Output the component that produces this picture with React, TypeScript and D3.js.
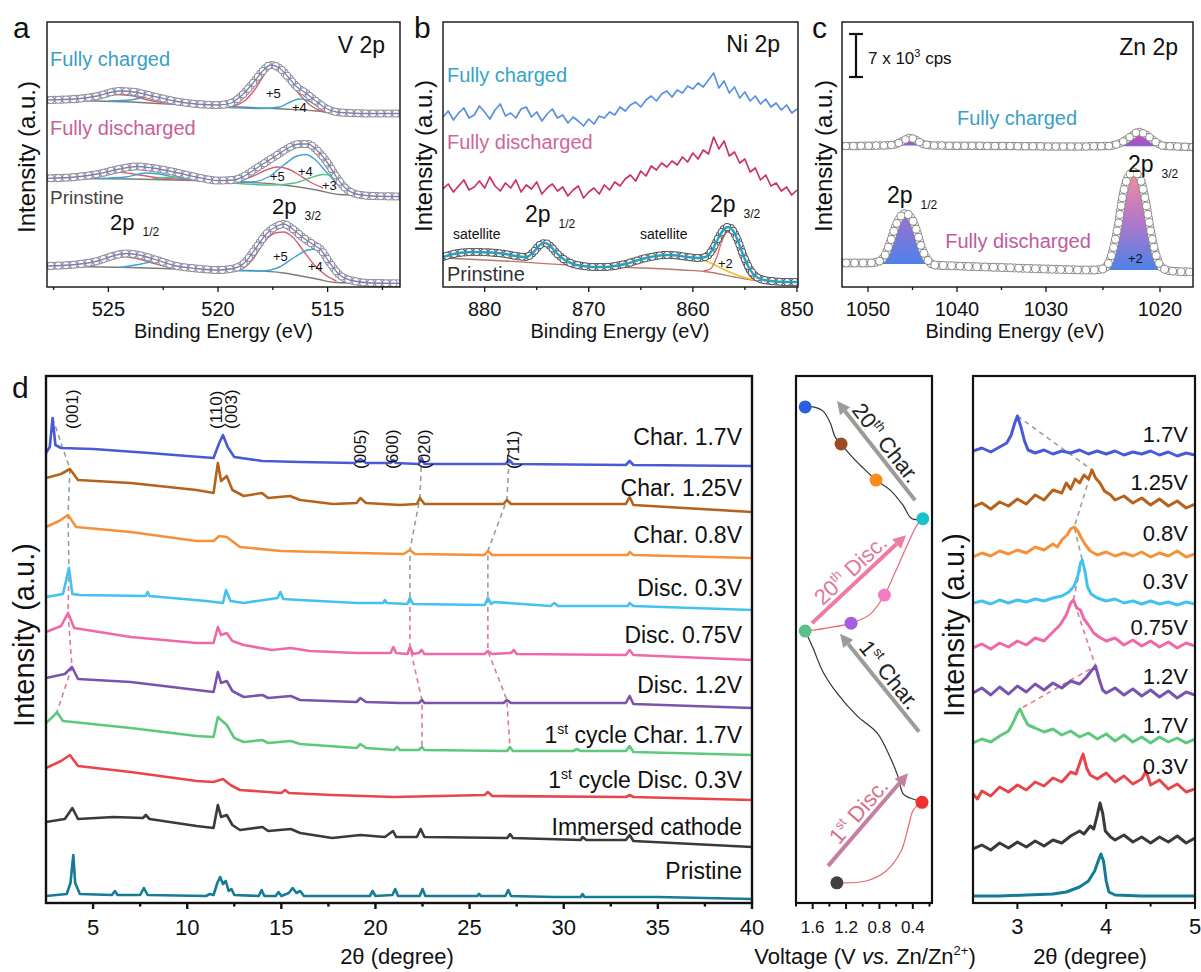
import React from 'react';
import * as d3 from 'd3';

type P = [number, number];
const FONT = '"Liberation Sans", Arial, Helvetica, sans-serif';

// ---------------- (a) V 2p XPS: [binding energy, intensity] ----------------
const aChargedFit: P[] = [[527.8,187],[526.5,188],[525.5,191],[524.5,196],[523.8,195],[523,191],[522,186],[521,183],[520,182],[519.4,184],[518.9,192],[518.4,204],[518,215],[517.6,222],[517.2,219],[516.8,210],[516.4,200],[516,194],[515.6,187],[515.1,179],[514.6,175],[514,174],[513,173.5],[511.7,173.5]];
const aChargedBg: P[] = [[527.8,187],[524,185],[521,181.5],[519,180],[517,178],[515.5,176],[514.5,173.8],[511.7,173.5]];
const aCharged5: P[] = [[527,187.5],[525.8,189],[524.8,192.5],[524,191.5],[523.2,187],[522.3,184],[521,181.5],[519.5,180.5],[518.8,186],[518.3,198],[517.9,212],[517.6,220],[517.2,217],[516.8,207],[516.3,193],[515.8,182],[515.3,176],[514.8,174]];
const aCharged4: P[] = [[525,186],[524,187],[523.2,190],[522.5,188],[521.8,184],[521,181.5],[518,178.5],[517.2,180],[516.7,185],[516.3,188],[515.9,186.5],[515.4,180],[514.9,175],[514.5,174]];

const aDisFit: P[] = [[527.8,108.7],[526.5,110],[525.5,113],[524.5,118],[523.7,120.5],[523,119],[522,115],[521,110],[520,106.5],[519.3,107],[518.8,111],[518.3,118],[517.8,125],[517.3,132],[516.8,139],[516.3,143],[515.9,143],[515.5,137],[515,124],[514.6,110],[514.2,99],[513.7,93],[513,91],[511.7,90.5]];
const aDisBg: P[] = [[527.8,108.7],[524,108],[521,106.5],[519,105],[517,102],[515.5,97],[514.5,92.5],[511.7,90.5]];
const aDis5: P[] = [[526.5,109],[525.3,113],[524.7,115],[524,113.5],[523,110],[522,108],[519.5,105.5],[518.5,110],[517.8,117],[517.3,120],[516.8,118],[516.3,112],[515.8,105],[515.2,99]];
const aDis4: P[] = [[525.5,108.5],[524.2,110],[523.3,114],[522.7,113],[521.8,109],[521,107],[518.5,105],[517.7,110],[517,122],[516.4,131],[516,132.5],[515.6,128],[515.1,116],[514.6,104],[514.2,96]];
const aDis3: P[] = [[523,108],[522,110],[521.3,109.5],[520.5,107],[517.5,102],[516.5,104],[515.8,109],[515.2,112.5],[514.8,111],[514.3,104],[513.8,96],[513.3,92]];

const aPriFit: P[] = [[527.8,21],[526.5,22.5],[525.5,26],[524.8,31],[524.2,33.5],[523.5,31.5],[522.8,27],[522,21.5],[521,18.5],[520,17],[519.3,18.5],[518.8,24],[518.3,38],[517.8,53],[517.3,61],[517,63],[516.6,58],[516.1,49],[515.7,43],[515.3,37],[514.9,24],[514.5,13],[514,7],[513,4],[511.7,3.7]];
const aPriBg: P[] = [[527.8,21],[524,19.5],[521,17.5],[518.5,16.5],[517,14],[515.5,8],[514.6,4.5],[511.7,3.5]];
const aPri5: P[] = [[527,21],[525.5,25],[524.6,31],[523.8,29],[523,24],[522,19],[520,17],[519,17.5],[518.4,28],[517.9,45],[517.4,54],[517,55],[516.6,50],[516.1,36],[515.6,22],[515.1,12],[514.6,6]];
const aPri4: P[] = [[524.5,19.5],[523.5,23],[523,25],[522.5,24],[521.8,20.5],[521,17.5],[518,16],[517.2,20],[516.5,30],[515.9,37],[515.6,37.7],[515.2,34],[514.7,22],[514.2,10],[513.8,5]];

// ---------------- (b) Ni 2p XPS ----------------
const bEnergy = d3.range(884, 849.9, -0.5);
const bCharged = [170,176,167,174,179,169,172,181,175,168,177,183,171,174,169,178,180,170,175,166,173,178,169,172,164,170,166,161,168,163,171,169,175,172,180,176,182,185,180,187,191,186,193,196,190,197,194,201,198,204,200,207,214,199,206,194,200,189,195,186,191,183,188,180,184,177,182,174,178];
const bDischarged = [98,103,95,101,107,97,100,106,99,110,101,96,104,99,107,95,102,98,105,93,99,103,96,100,91,97,101,89,95,99,93,102,97,105,101,108,112,106,116,111,121,117,124,120,126,122,130,125,134,128,137,133,150,138,146,131,135,124,128,115,119,107,112,101,104,96,100,92,97];
const bPriFit: P[] = [[884,30],[882.5,34],[881,35],[879.5,34.5],[878,33],[877,31],[876,30],[875.3,35],[874.7,42],[874.2,44],[873.7,41],[873.1,34],[872.3,27],[871.5,23],[870.5,21],[869.5,20],[868.5,20],[867.5,21],[866.5,23],[865.5,26],[864.5,29],[863.5,31],[862.5,32],[861.5,31.5],[860.5,30],[859.5,29],[858.8,30],[858.2,36],[857.6,48],[857,58],[856.6,60],[856.2,57],[855.7,47],[855.2,33],[854.7,21],[854.2,13],[853.5,8],[852.5,6],[851,5],[850,5]];
const bPriBg: P[] = [[884,29],[878,26],[872,22],[866,19.5],[861,17],[858.5,15],[856,10],[854,6.5],[852,5],[850,4.5]];
const bPri2: P[] = [[859,16],[858.3,18],[857.7,30],[857.2,46],[856.7,55],[856.3,54],[855.8,44],[855.3,28],[854.8,15],[854.2,8],[853.5,6]];
const bSat: P[] = [[859.5,29],[858.5,25],[857.5,20],[856.5,15],[855.5,11],[854.5,8],[853.5,6]];

// ---------------- (c) Zn 2p XPS ----------------
const cChargedFit: P[] = [[1052.9,141],[1048.5,141.5],[1047,142.5],[1046,146.5],[1045.3,149],[1044.6,147],[1043.8,143],[1042.5,141.5],[1035,141],[1028,140.5],[1024.5,141],[1023.3,145],[1022.5,151],[1021.9,155],[1021.2,152],[1020.5,146],[1019.8,141.5],[1018.5,140.5],[1017.1,140]];
const cDisFit: P[] = [[1052.9,24],[1050,24],[1049,25],[1048.2,30],[1047.5,45],[1046.8,63],[1046.2,72],[1045.8,73.5],[1045.2,70],[1044.6,58],[1044,40],[1043.3,27],[1042.5,22],[1040,21],[1035,19.5],[1030,18],[1026,17],[1025,18],[1024.3,30],[1023.7,60],[1023.2,95],[1022.7,112],[1022.3,115],[1021.8,110],[1021.3,88],[1020.8,55],[1020.3,30],[1019.8,19],[1019,16],[1017.1,15]];
// peak windows used for the coloured fills
const cFills = [
  { src: 'charged', from: 1047.5, to: 1043.5, base: 141.5, grad: 'gTop' },
  { src: 'charged', from: 1024.2, to: 1019.8, base: 140.8, grad: 'gTop' },
  { src: 'dis', from: 1048.6, to: 1043, base: 23, grad: 'gLeft' },
  { src: 'dis', from: 1024.8, to: 1019.7, base: 17, grad: 'gRight' },
];

// ---------------- (d) ex-situ XRD, 2θ 2.5–40 ----------------
const dNames = ['Char. 1.7V', 'Char. 1.25V', 'Char. 0.8V', 'Disc. 0.3V', 'Disc. 0.75V', 'Disc. 1.2V', '1|st| cycle Char. 1.7V', '1|st| cycle Disc. 0.3V', 'Immersed cathode', 'Pristine'];
const dColors = ['#4a5ad6', '#b5621c', '#f5913a', '#42c2ec', '#ef69a8', '#7953ad', '#5ec97c', '#e8464a', '#3a3a3a', '#167b96'];
const dLabelY = [445, 496, 543, 596, 643, 693, 743, 788, 835, 879];
const dTraces: P[][] = [
  [[2.5,450],[2.7,456],[2.85,485],[3,458],[3.3,455],[5,454],[8,450],[10,447],[11.4,445],[11.7,460],[11.9,468],[12.15,456],[12.5,446],[14,442],[16,441],[18.9,440],[19.2,444],[19.5,440],[20.8,440],[20.95,443],[21.1,440],[22.3,439],[22.45,445],[22.6,439],[26.9,439],[27.1,443],[27.3,439],[33.3,438],[33.5,442],[33.7,438],[40,437]],
  [[2.5,425],[3.3,429],[3.77,434],[4.2,423],[7,420],[10.5,413],[11.4,410],[11.63,440],[11.8,422],[12.1,427],[12.4,413],[13,407],[13.97,410],[14.3,405],[15.46,407],[16,403],[17.74,399],[19,400],[19.2,405],[19.5,400],[21.3,398],[22.2,399],[22.36,405],[22.6,399],[26.8,399],[26.98,403],[27.2,399],[33.3,399],[33.5,406],[33.7,398],[40,391]],
  [[2.5,376],[3.2,382],[3.67,388],[4.1,376],[7,371],[10.5,362],[11.4,362],[11.7,367],[12.1,366],[12.8,356],[15,352],[19,350],[21.5,349],[21.83,353],[22.1,349],[25.8,348],[25.97,352],[26.2,348],[33.4,348],[33.5,351],[33.7,348],[40,345]],
  [[2.5,306],[3.4,309],[3.72,335],[3.9,309],[4.3,308],[7.8,307],[7.9,311],[8,307],[11,302],[11.9,300],[12.06,313],[12.3,302],[13,300],[14.8,305],[14.95,311],[15.1,304],[16,303],[19,300],[20.4,300],[20.5,303],[20.6,300],[21.7,299],[21.83,305],[22,299],[25.8,298],[25.97,305],[26.15,299],[26.3,301],[29.3,297],[29.5,300],[29.7,297],[33.4,297],[33.5,300],[33.7,297],[40,293]],
  [[2.5,271],[3.3,277],[3.67,290],[4,275],[7,266],[10.5,260],[11.4,260],[11.63,276],[11.8,268],[12.1,270],[12.4,262],[13,258],[14.5,253],[15.5,255],[16.5,252],[19,250],[20.8,250],[20.95,256],[21.1,250],[21.7,249],[21.83,256],[22,249],[22.3,250],[22.45,253],[22.6,249],[25.8,249],[25.97,252],[26.2,249],[27.2,250],[27.35,253],[27.5,249],[33.3,248],[33.5,253],[33.7,248],[40,243]],
  [[2.5,225],[3.5,229],[3.88,236],[4.2,224],[7,221],[10.5,213],[11.4,211],[11.63,231],[11.8,220],[12.1,222],[12.4,212],[13,206],[14,208],[14.3,205],[15.5,207],[16,203],[19,201],[19.2,205],[19.5,201],[21.3,200],[22.3,200],[22.47,203],[22.6,200],[26.8,200],[26.98,203],[27.2,200],[33.3,200],[33.5,207],[33.7,199],[40,195]],
  [[2.5,180],[2.9,187],[3.08,191],[3.4,182],[7,175],[10.5,167],[11.4,166],[11.63,186],[11.8,183],[12.1,178],[12.5,165],[13,161],[14,163],[14.3,160],[15.5,162],[16,159],[19,155],[19.2,159],[19.5,155],[21,153],[21.15,156],[21.3,153],[22.3,153],[22.47,156],[22.6,153],[27,152],[27.14,156],[27.3,152],[30.5,152],[30.7,154],[30.9,152],[33.3,152],[33.5,157],[33.7,151],[40,148]],
  [[2.5,135],[3.3,142],[3.77,148],[4.2,137],[7,131],[10.5,122],[11.4,121],[11.9,124],[12.3,118],[12.8,113],[15,110],[15.2,113],[15.4,110],[17.7,108],[21,106],[25.8,108],[25.97,111],[26.2,107],[33.3,106],[33.5,108],[33.7,106],[40,103]],
  [[2.5,81],[3.5,84],[3.9,95],[4.2,84],[6.1,86],[7.65,85],[7.8,88],[8,84],[10.5,77],[11.4,75],[11.63,98],[11.8,86],[12.1,88],[12.4,78],[12.8,73],[14,76],[14.3,72],[15.5,74],[16,70],[17.7,65],[19.2,68],[20.5,66],[20.93,72],[21.1,66],[22.2,66],[22.4,74],[22.6,66],[27,65],[27.15,69],[27.3,65],[30.9,63],[31,66],[31.2,63],[33.3,63],[33.5,68],[33.7,62],[40,56]],
  [[2.5,7],[3.6,9],[3.8,20],[3.95,48],[4.05,20],[4.3,9],[6,8],[6.16,12],[6.3,8],[7.5,8],[7.7,15],[7.9,8],[11,7],[11.2,9],[11.4,8],[11.6,20],[11.75,26],[11.9,19],[12.05,22],[12.2,12],[12.35,14],[12.5,8],[13.8,7],[13.95,13],[14.1,7],[14.7,7],[14.85,11],[15,7],[15.4,10],[15.6,15],[15.8,10],[16,12],[16.2,7],[19.7,7],[19.85,12],[20,7],[20.9,8],[21.05,14],[21.2,7],[22.35,7],[22.5,14],[22.65,7],[25.4,7],[25.5,9],[25.6,7],[26.9,7],[27.05,13],[27.2,7],[29.5,6],[30.9,6],[31,9],[31.1,6],[35,6],[40,4]],
];
// peak positions followed by the dashed guides: [trace index, 2θ]
const dGuide001: P[] = [[0,2.85],[1,3.77],[2,3.67],[3,3.72],[4,3.67],[5,3.88],[6,3.08]];
const dGuide020: P[] = [[0,22.45],[1,22.36],[2,21.83],[3,21.83],[4,21.83],[5,22.47],[6,22.47]];
const dGuide711: P[] = [[0,27.1],[1,26.98],[2,25.97],[3,25.97],[4,25.97],[5,26.98],[6,27.14]];
const hkl = [
  { t: '(001)', x: 3.9, y: 429 }, { t: '(110)', x: 11.55, y: 429 }, { t: '(003)', x: 12.3, y: 429 },
  { t: '(005)', x: 19.2, y: 469 }, { t: '(600)', x: 20.9, y: 469 }, { t: '(020)', x: 22.6, y: 469 }, { t: '(7\u030411)', x: 27.3, y: 469 },
];

// ---------------- voltage profile (middle) ----------------
const vVolt = [1.31, 0.29, 1.69, 1.14, 0.74, 0.28, 0.84, 1.26, 1.69];
const vTime = [3.8, 19, 51.3, 52.8, 58.1, 72.5, 79.8, 86.6, 93.6];
const vColors = ['#404040', '#ee3030', '#5cc08a', '#a55ee0', '#f47cc4', '#17c3c8', '#ff8a1c', '#9c4a24', '#2a5fe0'];
const v1stDisc: P[] = [[1.308,3.8],[0.96,4.15],[0.72,6.04],[0.54,9.8],[0.455,14.3],[0.395,17.5],[0.287,19.1]];
const v1stChar: P[] = [[0.287,19.1],[0.43,19.8],[0.516,20.6],[0.576,23.8],[0.672,27.5],[0.828,32.1],[1.068,35.3],[1.308,39.6],[1.476,43.6],[1.596,48.1],[1.69,51.3]];
const v20Disc: P[] = [[1.69,51.3],[1.14,52.8],[0.91,54.5],[0.74,58.1],[0.62,62.1],[0.47,67.4],[0.35,71.3],[0.28,72.5]];
const v20Char: P[] = [[0.28,72.5],[0.41,72.5],[0.52,75.1],[0.67,77.9],[0.84,79.8],[0.996,82.1],[1.116,84],[1.26,86.6],[1.33,87.9],[1.39,90.6],[1.476,92.8],[1.596,93.6],[1.69,93.6]];
const vArrows = [
  { from: [0.373, 76] as P, to: [1.308, 94.7] as P, color: '#9b9b9b', n: '20', sup: 'th', rest: ' Char.', tc: '#222' },
  { from: [1.608, 52.8] as P, to: [0.481, 69.4] as P, color: '#ee7ca2', n: '20', sup: 'th', rest: ' Disc.', tc: '#e0789a' },
  { from: [0.325, 32.3] as P, to: [1.272, 50.8] as P, color: '#9b9b9b', n: '1', sup: 'st', rest: ' Char.', tc: '#222' },
  { from: [1.416, 7] as P, to: [0.457, 24.5] as P, color: '#c47fa2', n: '1', sup: 'st', rest: ' Disc.', tc: '#d8708c' },
];

// ---------------- zoomed (001) region, 2θ 2.5–5 ----------------
const rNames = ['1.7V', '1.25V', '0.8V', '0.3V', '0.75V', '1.2V', '1.7V', '0.3V'];
const rLabelY = [442, 490, 541, 589, 635, 684, 733, 774];
const rTraces: P[][] = [
  [[2.5,452],[2.6,455],[2.7,451],[2.8,456],[2.88,460],[2.93,468],[2.97,480],[3,487],[3.04,476],[3.08,462],[3.12,453],[3.2,450],[3.3,453],[3.4,449],[3.5,452],[3.6,450],[3.7,453],[3.8,449],[3.9,452],[4,449],[4.1,452],[4.2,448],[4.3,451],[4.4,449],[4.5,452],[4.6,448],[4.7,451],[4.8,447],[4.9,450],[5,448]],
  [[2.5,396],[2.6,400],[2.7,394],[2.8,401],[2.9,397],[3,404],[3.1,399],[3.2,408],[3.3,403],[3.4,413],[3.5,410],[3.55,420],[3.6,414],[3.65,424],[3.7,420],[3.75,428],[3.8,424],[3.84,433],[3.88,425],[3.93,420],[3.98,412],[4.05,408],[4.1,403],[4.2,407],[4.3,400],[4.4,405],[4.5,398],[4.6,404],[4.7,397],[4.8,402],[4.9,395],[5,399]],
  [[2.5,346],[2.6,350],[2.7,347],[2.8,352],[2.9,349],[3,353],[3.1,350],[3.2,356],[3.3,353],[3.4,359],[3.45,356],[3.5,363],[3.56,368],[3.6,374],[3.64,376],[3.68,372],[3.72,365],[3.76,359],[3.82,352],[3.9,348],[4,351],[4.1,347],[4.2,350],[4.3,347],[4.4,351],[4.5,346],[4.6,350],[4.7,347],[4.8,352],[4.9,346],[5,349]],
  [[2.5,300],[2.6,302],[2.7,299],[2.8,303],[2.9,300],[3,303],[3.1,301],[3.2,304],[3.3,302],[3.4,305],[3.5,307],[3.58,311],[3.64,317],[3.68,327],[3.71,340],[3.73,343],[3.76,332],[3.79,316],[3.83,309],[3.9,305],[4,302],[4.1,304],[4.2,300],[4.3,302],[4.4,299],[4.5,302],[4.6,299],[4.7,301],[4.8,298],[4.9,301],[5,299]],
  [[2.5,255],[2.6,259],[2.7,254],[2.8,260],[2.9,256],[3,262],[3.1,258],[3.2,265],[3.3,262],[3.4,271],[3.48,278],[3.55,288],[3.6,300],[3.63,303],[3.67,295],[3.71,293],[3.75,284],[3.8,278],[3.86,270],[3.92,266],[4,262],[4.1,265],[4.2,258],[4.3,263],[4.4,257],[4.5,262],[4.6,256],[4.7,261],[4.8,255],[4.9,260],[5,257]],
  [[2.5,210],[2.6,215],[2.7,208],[2.8,216],[2.9,209],[3,217],[3.1,211],[3.2,219],[3.3,213],[3.4,220],[3.5,215],[3.6,222],[3.7,219],[3.78,226],[3.83,232],[3.88,237],[3.92,224],[3.96,213],[4,210],[4.1,215],[4.2,208],[4.3,214],[4.4,207],[4.5,213],[4.6,206],[4.7,212],[4.8,205],[4.9,211],[5,208]],
  [[2.5,160],[2.6,164],[2.7,161],[2.8,167],[2.9,172],[2.95,180],[3,190],[3.03,194],[3.07,186],[3.12,178],[3.2,175],[3.3,171],[3.4,174],[3.5,168],[3.6,172],[3.7,166],[3.8,170],[3.9,164],[4,169],[4.1,162],[4.2,168],[4.3,161],[4.4,166],[4.5,160],[4.6,166],[4.7,161],[4.8,165],[4.9,160],[5,164]],
  [[2.5,109],[2.55,104],[2.6,112],[2.7,107],[2.8,116],[2.9,111],[3,118],[3.1,113],[3.2,121],[3.3,117],[3.4,125],[3.5,121],[3.6,131],[3.66,129],[3.71,142],[3.74,149],[3.78,135],[3.82,128],[3.9,124],[4,130],[4.1,121],[4.2,127],[4.3,119],[4.4,124],[4.45,132],[4.5,118],[4.6,123],[4.7,114],[4.8,119],[4.9,111],[5,114]],
  [[2.5,54],[2.6,58],[2.7,53],[2.8,60],[2.9,55],[3,61],[3.1,56],[3.2,62],[3.3,57],[3.4,63],[3.5,60],[3.6,67],[3.7,72],[3.75,69],[3.82,77],[3.86,74],[3.9,88],[3.93,100],[3.96,90],[3.99,72],[4.05,66],[4.1,63],[4.2,68],[4.3,61],[4.4,66],[4.5,60],[4.6,66],[4.7,61],[4.8,67],[4.9,60],[5,65]],
  [[2.5,7],[2.8,7],[3.1,8],[3.4,9],[3.55,11],[3.7,16],[3.8,22],[3.87,32],[3.91,42],[3.94,49],[3.97,42],[4,22],[4.03,11],[4.1,8],[4.4,7],[4.7,7],[5,7]],
];
const rGuideGray: P[] = [[0,3.0],[1,3.84],[2,3.64],[3,3.73]];
const rGuidePink: P[] = [[3,3.73],[4,3.63],[5,3.88],[6,3.03]];

// ---------------- helpers ----------------
const lineOf = (x: any, y: any, curve: any = d3.curveLinear) =>
  d3.line<P>().x((p) => x(p[0])).y((p) => y(p[1])).curve(curve);

const valueAt = (tr: P[], t: number) => {
  let best = tr[0];
  tr.forEach((p) => { if (Math.abs(p[0] - t) < Math.abs(best[0] - t)) best = p; });
  return best[1];
};

// open symbols: two interleaved rows of round dots along the fitted path
const Dots = ({ d, r = 3.6, gap = 4, stroke = '#8a8a8a' }: { d: string; r?: number; gap?: number; stroke?: string }) => {
  const s = 2 * gap;
  const common = { d, fill: 'none', strokeLinecap: 'round' as const, strokeDasharray: `0 ${s}` };
  return (
    <g>
      <path {...common} stroke={stroke} strokeWidth={2 * r + 1.3} />
      <path {...common} stroke="#fff" strokeWidth={2 * r - 0.7} />
      <path {...common} stroke={stroke} strokeWidth={2 * r + 1.3} strokeDashoffset={-gap} />
      <path {...common} stroke="#fff" strokeWidth={2 * r - 0.7} strokeDashoffset={-gap} />
    </g>
  );
};

const Sub = ({ x, y, big, small, size = 23 }: { x: number; y: number; big: string; small: string; size?: number }) => (
  <text x={x} y={y} fontSize={size} fill="#111">
    {big}
    <tspan fontSize={12} dx={8} dy={6}>{small}</tspan>
  </text>
);

const BottomAxis = ({ x, y0, majors, minors, labels, size, len = 5, width = 1.3, labelY }: any) => (
  <g>
    {majors.map((v: number, i: number) => (
      <g key={'M' + i}>
        <line x1={x(v)} x2={x(v)} y1={y0} y2={y0 + len} stroke="#111" strokeWidth={width} />
        <text x={x(v)} y={labelY} fontSize={size} textAnchor="middle" fill="#111">{labels ? labels[i] : v}</text>
      </g>
    ))}
    {minors.map((v: number, i: number) => (
      <line key={'m' + i} x1={x(v)} x2={x(v)} y1={y0} y2={y0 + len * 0.6} stroke="#111" strokeWidth={width} />
    ))}
  </g>
);

const YTitle = ({ x, y, size }: { x: number; y: number; size: number }) => (
  <text transform={`translate(${x},${y}) rotate(-90)`} textAnchor="middle" fontSize={size} fill="#111">Intensity (a.u.)</text>
);

const App = () => {
  // panel frames
  const A = { l: 47, r: 400, t: 22, b: 287 };
  const B = { l: 443, r: 798, t: 22, b: 287 };
  const C = { l: 842, r: 1193, t: 22, b: 287 };
  const D = { l: 46, r: 752, t: 376, b: 903 };
  const V = { l: 796, r: 932, t: 376, b: 903 };
  const R = { l: 973, r: 1195, t: 376, b: 903 };

  const ax = d3.scaleLinear().domain([527.8, 511.7]).range([A.l, A.r]);
  const bx = d3.scaleLinear().domain([884, 849.9]).range([B.l, B.r]);
  const cx = d3.scaleLinear().domain([1052.9, 1050, 1030, 1020, 1017.1]).range([C.l, 868, 1046, 1160, C.r]);
  const xpsY = d3.scaleLinear().domain([0, 265]).range([A.b, A.t]);
  const dx = d3.scaleLinear().domain([2.5, 40]).range([D.l, D.r]);
  const dy = d3.scaleLinear().domain([0, 527]).range([D.b, D.t]);
  const vx = d3.scaleLinear().domain([1.8, 0.17]).range([V.l, V.r]);
  const vy = d3.scaleLinear().domain([0, 100]).range([903, 373]);
  const rx = d3.scaleLinear().domain([2.5, 5]).range([R.l, R.r]);

  const la = lineOf(ax, xpsY, d3.curveMonotoneX);
  const lb = lineOf(bx, xpsY, d3.curveMonotoneX);
  const lbRaw = lineOf(bx, xpsY);
  const lc = lineOf(cx, xpsY, d3.curveMonotoneX);
  const ld = lineOf(dx, dy);
  const lv = lineOf(vx, vy, d3.curveCatmullRom);
  const lr = lineOf(rx, dy);

  const frame = (f: any, w = 1.4) => (
    <rect x={f.l} y={f.t} width={f.r - f.l} height={f.b - f.t} fill="none" stroke="#111" strokeWidth={w} />
  );
  const clip = (id: string, f: any) => (
    <clipPath id={id}><rect x={f.l} y={f.t} width={f.r - f.l} height={f.b - f.t} /></clipPath>
  );

  const aSets = [
    { fit: aChargedFit, bg: aChargedBg, comps: [[aCharged5, '#d95f70'], [aCharged4, '#3fa2d2']] },
    { fit: aDisFit, bg: aDisBg, comps: [[aDis5, '#d95f70'], [aDis4, '#3fa2d2'], [aDis3, '#55c08a']] },
    { fit: aPriFit, bg: aPriBg, comps: [[aPri5, '#d95f70'], [aPri4, '#3fa2d2']] },
  ];

  const chargedLine = bEnergy.map((e, i) => [e, bCharged[i]] as P);
  const dischargedLine = bEnergy.map((e, i) => [e, bDischarged[i]] as P);

  const fillArea = (f: any) => {
    const src = f.src === 'charged' ? cChargedFit : cDisFit;
    const pts = src.filter((p) => p[0] <= f.from && p[0] >= f.to);
    return d3.area<P>().x((p) => cx(p[0])).y0(xpsY(f.base)).y1((p) => xpsY(p[1])).curve(d3.curveMonotoneX)([[f.from, f.base], ...pts, [f.to, f.base]]) || '';
  };

  const guide = (g: P[], trs: P[][], xs: any, color: string, key: string) => (
    <path key={key} d={lineOf(xs, dy)(g.map(([k, t]) => [t, valueAt(trs[k], t)] as P)) || ''} fill="none" stroke={color} strokeWidth={1.6} strokeDasharray="5 4" />
  );

  const arrowEls = vArrows.map((a, i) => {
    const x1 = vx(a.from[0]), y1 = vy(a.from[1]), x2 = vx(a.to[0]), y2 = vy(a.to[1]);
    const len = Math.hypot(x2 - x1, y2 - y1);
    const ux = (x2 - x1) / len, uy = (y2 - y1) / len;
    const hx = x2 - ux * 13, hy = y2 - uy * 13;
    const head = `M${x2},${y2} L${hx - uy * 6.5},${hy + ux * 6.5} L${hx + uy * 6.5},${hy - ux * 6.5} Z`;
    let ang = (Math.atan2(y2 - y1, x2 - x1) * 180) / Math.PI;
    if (ang > 90) ang -= 180;
    if (ang < -90) ang += 180;
    const rad = (ang * Math.PI) / 180;
    const upx = Math.sin(rad), upy = -Math.cos(rad);
    const mx = (x1 + x2) / 2 + upx * 5, my = (y1 + y2) / 2 + upy * 5;
    return (
      <g key={'arr' + i}>
        <line x1={x1} y1={y1} x2={hx} y2={hy} stroke={a.color} strokeWidth={4} />
        <path d={head} fill={a.color} />
        <text transform={`translate(${mx},${my}) rotate(${ang})`} textAnchor="middle" fontSize={22} fill={a.tc}>
          {a.n}<tspan fontSize={13} dy={-9}>{a.sup}</tspan><tspan dy={9}>{a.rest}</tspan>
        </text>
      </g>
    );
  });

  return (
    <svg width={1201} height={972} style={{ position: 'absolute', left: 0, top: 0, background: '#fff' }} fontFamily={FONT}>
      <defs>
        {clip('clipA', A)}{clip('clipB', B)}{clip('clipC', C)}{clip('clipD', D)}{clip('clipV', V)}{clip('clipR', R)}
        <linearGradient id="gLeft" x1="0" y1="0" x2="0" y2="1">
          <stop offset="0" stopColor="#a070d2" />
          <stop offset="1" stopColor="#4d82e8" />
        </linearGradient>
        <linearGradient id="gRight" x1="0" y1="0" x2="0" y2="1">
          <stop offset="0" stopColor="#f28ea0" />
          <stop offset="0.5" stopColor="#b377c8" />
          <stop offset="1" stopColor="#4d82e8" />
        </linearGradient>
        <linearGradient id="gTop" x1="0" y1="0" x2="0" y2="1">
          <stop offset="0" stopColor="#e040b8" />
          <stop offset="1" stopColor="#8a5ed0" />
        </linearGradient>
      </defs>

      {/* ---------------- (a) ---------------- */}
      <text x={13} y={38} fontSize={30} fill="#111">a</text>
      <g clipPath="url(#clipA)">
        {aSets.map((s, i) => (
          <g key={'a' + i}>
            <path d={la(s.bg) || ''} fill="none" stroke="#7a7a7a" strokeWidth={1.3} />
            {s.comps.map((c: any, j: number) => (
              <path key={j} d={la(c[0]) || ''} fill="none" stroke={c[1]} strokeWidth={1.4} />
            ))}
            <Dots d={la(s.fit) || ''} r={3.4} gap={3.8} stroke="#8c8c98" />
            <path d={la(s.fit) || ''} fill="none" stroke="#7d7db4" strokeWidth={1.3} />
          </g>
        ))}
      </g>
      {frame(A)}
      <BottomAxis x={ax} y0={A.b} majors={[525, 520, 515]} minors={[527.5, 522.5, 517.5, 512.5]} size={20} labelY={316} />
      <text x={(A.l + A.r) / 2} y={338} textAnchor="middle" fontSize={20} fill="#111">Binding Energy (eV)</text>
      <YTitle x={35} y={157} size={24} />
      <text x={385} y={53} textAnchor="end" fontSize={23} fill="#111">V 2p</text>
      <text x={50} y={66} fontSize={20} fill="#3a9ec4">Fully charged</text>
      <text x={50} y={135} fontSize={20} fill="#c8609a">Fully discharged</text>
      <text x={50} y={204} fontSize={19} fill="#444">Prinstine</text>
      <Sub x={110} y={230} big="2p" small="1/2" size={22} />
      <Sub x={272} y={214} big="2p" small="3/2" size={22} />
      {[['+5', 266, 98], ['+4', 292, 112], ['+5', 270, 181], ['+4', 298, 176], ['+3', 322, 190], ['+5', 273, 261], ['+4', 308, 271]].map((l: any, i) => (
        <text key={'ox' + i} x={l[1]} y={l[2]} fontSize={13} fill="#111">{l[0]}</text>
      ))}

      {/* ---------------- (b) ---------------- */}
      <text x={414} y={38} fontSize={30} fill="#111">b</text>
      <g clipPath="url(#clipB)">
        <path d={lbRaw(chargedLine) || ''} fill="none" stroke="#5b8fe0" strokeWidth={1.7} strokeLinejoin="round" />
        <path d={lbRaw(dischargedLine) || ''} fill="none" stroke="#c8326e" strokeWidth={1.7} strokeLinejoin="round" />
        <path d={lb(bPriBg) || ''} fill="none" stroke="#b87a6c" strokeWidth={1.4} />
        <path d={lb(bSat) || ''} fill="none" stroke="#e8c23a" strokeWidth={1.6} />
        <path d={lb(bPri2) || ''} fill="none" stroke="#e07070" strokeWidth={1.4} />
        <Dots d={lb(bPriFit) || ''} r={3.4} gap={3.8} stroke="#555" />
        <path d={lb(bPriFit) || ''} fill="none" stroke="#2a9fc2" strokeWidth={2.4} />
      </g>
      {frame(B)}
      <BottomAxis x={bx} y0={B.b} majors={[880, 870, 860, 850]} minors={[875, 865, 855]} size={20} labelY={316} />
      <text x={620} y={338} textAnchor="middle" fontSize={20} fill="#111">Binding Energy (eV)</text>
      <YTitle x={432} y={156} size={24} />
      <text x={780} y={52} textAnchor="end" fontSize={23} fill="#111">Ni 2p</text>
      <text x={447} y={82} fontSize={20} fill="#35a3c6">Fully charged</text>
      <text x={447} y={149} fontSize={20} fill="#d0649c">Fully discharged</text>
      <text x={453} y={239} fontSize={14} fill="#111">satellite</text>
      <text x={640} y={239} fontSize={14} fill="#111">satellite</text>
      <Sub x={525} y={222} big="2p" small="1/2" />
      <Sub x={710} y={212} big="2p" small="3/2" />
      <text x={718} y={268} fontSize={13} fill="#111">+2</text>
      <text x={447} y={281} fontSize={20} fill="#333">Prinstine</text>

      {/* ---------------- (c) ---------------- */}
      <text x={812} y={38} fontSize={30} fill="#111">c</text>
      <g clipPath="url(#clipC)">
        {cFills.map((f, i) => <path key={'cf' + i} d={fillArea(f)} fill={`url(#${f.grad})`} />)}
        <Dots d={lc(cChargedFit) || ''} r={3.6} gap={3.8} stroke="#8a8a8a" />
        <Dots d={lc(cDisFit) || ''} r={3.8} gap={4.2} stroke="#8a8a8a" />
      </g>
      {frame(C)}
      <BottomAxis x={cx} y0={C.b} majors={[1050, 1040, 1030, 1020]} minors={[1045, 1035, 1025]} size={20} labelY={316} />
      <text x={1015} y={338} textAnchor="middle" fontSize={20} fill="#111">Binding Energy (eV)</text>
      <YTitle x={832} y={156} size={24} />
      <text x={1178} y={55} textAnchor="end" fontSize={23} fill="#111">Zn 2p</text>
      <g stroke="#111" strokeWidth={2.2}>
        <line x1={856} x2={856} y1={34} y2={77} />
        <line x1={849} x2={863} y1={34} y2={34} />
        <line x1={849} x2={863} y1={77} y2={77} />
      </g>
      <text x={868} y={64} fontSize={17} fill="#111">7 x 10<tspan fontSize={11} dy={-7}>3</tspan><tspan dy={7}> cps</tspan></text>
      <text x={1017} y={125} textAnchor="middle" fontSize={20} fill="#3a9fc2">Fully charged</text>
      <text x={1018} y={248} textAnchor="middle" fontSize={20} fill="#c05aa0">Fully discharged</text>
      <Sub x={887} y={203} big="2p" small="1/2" />
      <Sub x={1128} y={172} big="2p" small="3/2" />
      <text x={1128} y={263} fontSize={13} fill="#111">+2</text>

      {/* ---------------- (d) XRD ---------------- */}
      <text x={12} y={398} fontSize={30} fill="#111">d</text>
      <g clipPath="url(#clipD)">
        {guide(dGuide001.slice(0, 4), dTraces, dx, '#9c9c9c', 'g1')}
        {guide(dGuide001.slice(3), dTraces, dx, '#e07896', 'g2')}
        {guide(dGuide020.slice(0, 4), dTraces, dx, '#9c9c9c', 'g3')}
        {guide(dGuide020.slice(3), dTraces, dx, '#e07896', 'g4')}
        {guide(dGuide711.slice(0, 4), dTraces, dx, '#9c9c9c', 'g5')}
        {guide(dGuide711.slice(3), dTraces, dx, '#e07896', 'g6')}
        {dTraces.map((tr, i) => (
          <path key={'d' + i} d={ld(tr) || ''} fill="none" stroke={dColors[i]} strokeWidth={2.6} strokeLinejoin="round" />
        ))}
      </g>
      {dNames.map((n, i) => {
        const parts = n.split('|');
        return (
          <text key={'dl' + i} x={742} y={dLabelY[i]} textAnchor="end" fontSize={23} fill="#111">
            {parts.length > 1 ? (
              <>
                {parts[0]}<tspan fontSize={14} dy={-9}>{parts[1]}</tspan><tspan dy={9}>{parts[2]}</tspan>
              </>
            ) : n}
          </text>
        );
      })}
      {hkl.map((h, i) => (
        <text key={'h' + i} transform={`translate(${dx(h.x) + 6},${h.y}) rotate(-90)`} fontSize={17} fill="#111">{h.t}</text>
      ))}
      {frame(D, 2.4)}
      <BottomAxis x={dx} y0={D.b} majors={[5, 10, 15, 20, 25, 30, 35, 40]} minors={[7.5, 12.5, 17.5, 22.5, 27.5, 32.5, 37.5]} size={22} len={6} width={2.4} labelY={935} />
      <text x={397} y={964} textAnchor="middle" fontSize={22} fill="#111">2θ (degree)</text>
      <YTitle x={34} y={635} size={29} />

      {/* ---------------- voltage profile ---------------- */}
      <g clipPath="url(#clipV)">
        <path d={lv(v1stDisc) || ''} fill="none" stroke="#e46868" strokeWidth={1.2} />
        <path d={lv(v1stChar) || ''} fill="none" stroke="#333" strokeWidth={1.2} />
        <path d={lv(v20Disc) || ''} fill="none" stroke="#e46878" strokeWidth={1.2} />
        <path d={lv(v20Char) || ''} fill="none" stroke="#333" strokeWidth={1.2} />
        {arrowEls}
        {vVolt.map((v, i) => (
          <circle key={'vp' + i} cx={vx(v)} cy={vy(vTime[i])} r={6.5} fill={vColors[i]} />
        ))}
      </g>
      {frame(V, 2.2)}
      <BottomAxis x={vx} y0={V.b} majors={[1.6, 1.2, 0.8, 0.4]} minors={[1.8, 1.4, 1.0, 0.6, 0.2]} labels={['1.6', '1.2', '0.8', '0.4']} size={17} len={6} width={2} labelY={933} />
      <text x={865} y={964} textAnchor="middle" fontSize={22} fill="#111">
        Voltage (V <tspan fontStyle="italic">vs.</tspan> Zn/Zn<tspan fontSize={13} dy={-9}>2+</tspan><tspan dy={9}>)</tspan>
      </text>

      {/* ---------------- zoomed (001) ---------------- */}
      <g clipPath="url(#clipR)">
        {guide(rGuideGray, rTraces, rx, '#a0a0a0', 'r1')}
        {guide(rGuidePink, rTraces, rx, '#e07896', 'r2')}
        {rTraces.map((tr, i) => (
          <path key={'r' + i} d={lr(tr) || ''} fill="none" stroke={dColors[i]} strokeWidth={3} strokeLinejoin="round" />
        ))}
      </g>
      {rNames.map((n, i) => (
        <text key={'rl' + i} x={1188} y={rLabelY[i]} textAnchor="end" fontSize={22} fill="#111">{n}</text>
      ))}
      {frame(R, 2.2)}
      <BottomAxis x={rx} y0={R.b} majors={[3, 4, 5]} minors={[3.5, 4.5]} size={22} len={6} width={2} labelY={934} />
      <text x={1090} y={964} textAnchor="middle" fontSize={22} fill="#111">2θ (degree)</text>
      <YTitle x={964} y={625} size={29} />
    </svg>
  );
};

export default App;
